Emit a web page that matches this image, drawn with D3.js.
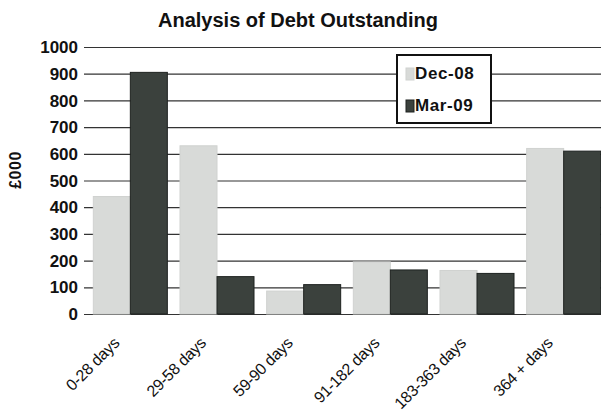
<!DOCTYPE html>
<html>
<head>
<meta charset="utf-8">
<script src="https://cdn.jsdelivr.net/npm/d3@7"></script>
<style>
  body { margin: 0; background: #fff; }
  svg { font-family: "Liberation Sans", Arial, sans-serif; }
</style>
</head>
<body>
<svg width="601" height="412"></svg>
<script>
const categories = ['0-28 days', '29-58 days', '59-90 days', '91-182 days', '183-363 days', '364 + days']
const dec08 = [440, 630, 86, 195, 163, 620]
const mar09 = [905, 140, 110, 165, 152, 610]
const seriesNames = ['Dec-08', 'Mar-09']
const yTicks = [0, 100, 200, 300, 400, 500, 600, 700, 800, 900, 1000]

const svg = d3.select('svg')
const width = +svg.attr('width')

const rows = categories.map((c, i) => ({ cat: c, values: [dec08[i], mar09[i]] }))

const x = d3.scaleBand()
  .domain(categories)
  .range([87, 607])
  .paddingInner(0.146)
  .paddingOuter(0.073)

const x1 = d3.scaleBand()
  .domain(seriesNames)
  .range([0, x.bandwidth()])

const y = d3.scaleLinear()
  .domain([0, 1000])
  .range([314, 47])

const fill = { 'Dec-08': '#d8dad8', 'Mar-09': '#3b413d' }
const stroke = { 'Dec-08': '#d0d2d0', 'Mar-09': '#1e2220' }

// gridlines
const yAxis = svg.append('g')
  .attr('transform', 'translate(84,0)')
  .call(d3.axisRight(y).tickValues(yTicks).tickSize(width - 84).tickFormat(''))
yAxis.select('.domain').remove()
yAxis.selectAll('.tick line').attr('stroke', '#333').attr('stroke-width', 1.2)

// tick labels
svg.append('g').selectAll('text')
  .data(yTicks)
  .join('text')
  .attr('x', 78)
  .attr('y', d => y(d))
  .attr('dy', '0.36em')
  .attr('text-anchor', 'end')
  .attr('font-size', 17)
  .attr('font-weight', 'bold')
  .attr('fill', '#111')
  .text(d => d)

// bars
svg.append('g').selectAll('g')
  .data(rows)
  .join('g')
  .attr('transform', d => `translate(${x(d.cat)},0)`)
  .selectAll('rect')
  .data(d => d.values.map((v, i) => ({ key: seriesNames[i], v })))
  .join('rect')
  .attr('x', d => x1(d.key))
  .attr('y', d => y(d.v))
  .attr('width', x1.bandwidth())
  .attr('height', d => y(0) - y(d.v))
  .attr('fill', d => fill[d.key])
  .attr('stroke', d => stroke[d.key])
  .attr('stroke-width', 1)

// x labels
svg.append('g').selectAll('text')
  .data(categories)
  .join('text')
  .attr('transform', d => `translate(${x(d) + x.bandwidth() / 2 - 10},344) rotate(-45)`)
  .attr('text-anchor', 'end')
  .attr('font-size', 16)
  .attr('letter-spacing', -0.3)
  .attr('fill', '#111')
  .text(d => d)

// title
svg.append('text')
  .attr('x', 298)
  .attr('y', 27)
  .attr('text-anchor', 'middle')
  .attr('font-size', 20)
  .attr('font-weight', 'bold')
  .attr('fill', '#111')
  .text('Analysis of Debt Outstanding')

// y label
svg.append('text')
  .attr('transform', 'translate(21,170) rotate(-90)')
  .attr('text-anchor', 'middle')
  .attr('font-size', 16)
  .attr('font-weight', 'bold')
  .attr('letter-spacing', 0.5)
  .attr('fill', '#111')
  .text('£000')

// legend
const legend = svg.append('g')
legend.append('rect')
  .attr('x', 397).attr('y', 55)
  .attr('width', 94).attr('height', 68)
  .attr('fill', '#fff')
  .attr('stroke', '#111')
  .attr('stroke-width', 2)
const li = legend.selectAll('g.item')
  .data(seriesNames)
  .join('g')
  .attr('class', 'item')
  .attr('transform', (d, i) => `translate(406,${68 + i * 32})`)
li.append('rect')
  .attr('width', 8).attr('height', 12)
  .attr('fill', d => fill[d])
  .attr('stroke', d => stroke[d])
li.append('text')
  .attr('x', 9).attr('y', 11)
  .attr('font-size', 17)
  .attr('font-weight', 'bold')
  .attr('letter-spacing', 0.6)
  .attr('fill', '#111')
  .text(d => d)
</script>
</body>
</html>
